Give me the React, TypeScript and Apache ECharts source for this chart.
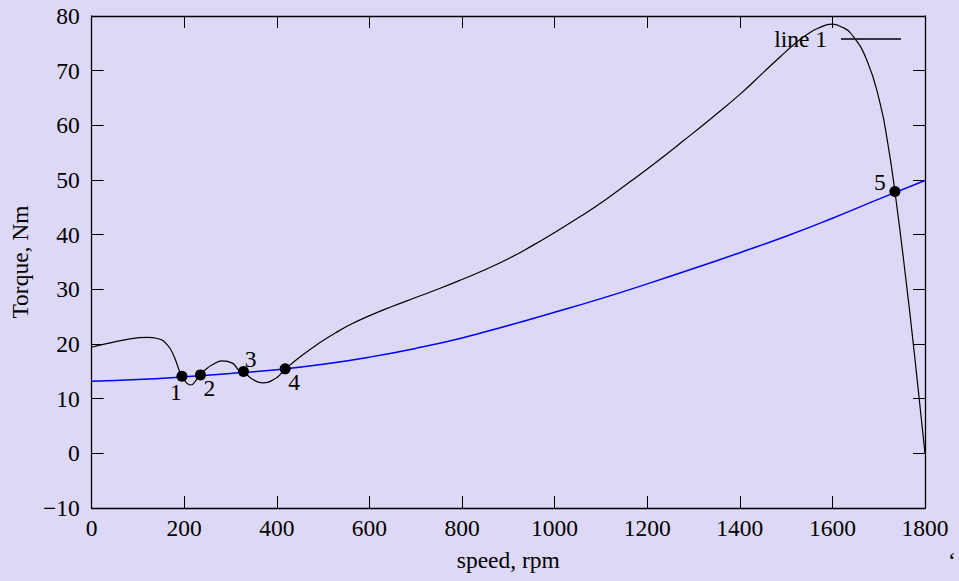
import React, { useEffect, useRef } from "react";
import * as echarts from "echarts";

// Blue load curve (speed rpm -> torque Nm)
const blueSpeed = [0, 100, 200, 300, 400, 500, 600, 700, 800, 900, 1000, 1100, 1200, 1300, 1400, 1500, 1600, 1700, 1800];
const blueTorque = [13.2, 13.5, 14.0, 14.6, 15.3, 16.3, 17.6, 19.2, 21.1, 23.4, 25.8, 28.3, 31.0, 33.8, 36.7, 39.7, 43.0, 46.5, 49.9];

// Black motor curve "line 1"
const lineSpeed = [0, 35, 80, 120, 142, 164, 178, 189, 195, 205, 214, 225, 235, 250, 261, 282, 304, 318, 329, 345, 368, 397, 418, 454, 494, 526, 560, 598, 650, 700, 750, 800, 842, 900, 950, 1000, 1057, 1110, 1165, 1220, 1280, 1340, 1402, 1450, 1488, 1520, 1545, 1570, 1599, 1620, 1640, 1674, 1703, 1720, 1735, 1755, 1778, 1800];
const lineTorque = [19.4, 20.1, 20.9, 21.2, 21.0, 19.8, 17.7, 15.2, 14.1, 12.9, 12.5, 13.3, 14.4, 15.6, 16.2, 16.9, 16.5, 15.2, 14.9, 13.7, 12.9, 13.7, 15.4, 17.9, 20.3, 22.0, 23.6, 25.1, 26.9, 28.5, 30.1, 31.8, 33.3, 35.6, 37.9, 40.4, 43.4, 46.4, 49.8, 53.3, 57.3, 61.4, 65.8, 69.6, 72.6, 75.0, 76.6, 77.8, 78.5, 78.0, 76.8, 72.0, 64.0, 56.5, 47.9, 34.5, 17.5, 0];

// Intersection points
const pointSpeed = [195, 235, 328, 418, 1735];
const pointTorque = [14.1, 14.35, 14.95, 15.45, 47.9];
const pointLabels = ["1", "2", "3", "4", "5"];

// Axis ticks
const xMin = 0, xMax = 1800, xStep = 200;
const yMin = -10, yMax = 80, yStep = 10;

const FONT = "Liberation Serif";
const FS = 23.5;

export default function App() {
  const ref = useRef<HTMLDivElement>(null);
  useEffect(() => {
    document.body.style.margin = "0";
    const chart = echarts.init(ref.current!, null, { renderer: "svg" });
    const labelOffsets: [number, number][] = [[-6, 16], [9, 13], [7, -13], [9, 13], [-15, -9]];
    const axisLine = { show: true, onZero: false, lineStyle: { color: "#000", width: 1.3 } };
    const tick = { show: true, inside: true, length: 12, lineStyle: { color: "#000", width: 1 } };
    const option: any = {
      animation: false,
      backgroundColor: "#dcd8f6",
      textStyle: { fontFamily: FONT },
      grid: { left: 89, top: 16, right: 34, bottom: 73 },
      legend: {
        data: [{ name: "line 1", icon: "rect" }],
        right: 58,
        top: 27,
        padding: 0,
        align: "right",
        itemWidth: 60,
        itemHeight: 1.3,
        itemStyle: { color: "#000" },
        textStyle: { fontFamily: FONT, fontSize: FS, color: "#000", padding: [0, 9, 0, 0] },
      },
      xAxis: [
        {
          type: "value", min: xMin, max: xMax, interval: xStep, position: "bottom",
          name: "speed, rpm", nameLocation: "middle", nameGap: 40,
          nameTextStyle: { fontFamily: FONT, fontSize: FS, color: "#000" },
          axisLine, axisTick: tick, splitLine: { show: false },
          axisLabel: { fontFamily: FONT, fontSize: FS, color: "#000", margin: 8, formatter: (v: number) => String(v) },
        },
        {
          type: "value", min: xMin, max: xMax, interval: xStep, position: "top",
          axisLine, axisTick: tick, splitLine: { show: false }, axisLabel: { show: false },
        },
      ],
      yAxis: [
        {
          type: "value", min: yMin, max: yMax, interval: yStep, position: "left",
          name: "Torque, Nm", nameLocation: "middle", nameGap: 57, nameRotate: 90,
          nameTextStyle: { fontFamily: FONT, fontSize: FS, color: "#000" },
          axisLine, axisTick: tick, splitLine: { show: false },
          axisLabel: {
            fontFamily: FONT, fontSize: FS, color: "#000", margin: 12,
            formatter: (v: number) => (v < 0 ? "\u2212" + Math.abs(v) : String(v)),
          },
        },
        {
          type: "value", min: yMin, max: yMax, interval: yStep, position: "right",
          axisLine, axisTick: tick, splitLine: { show: false }, axisLabel: { show: false },
        },
      ],
      series: [
        {
          name: "load",
          type: "line",
          data: blueSpeed.map((s, i) => [s, blueTorque[i]]),
          symbol: "none",
          smooth: 0.5,
          lineStyle: { color: "#0000ff", width: 1.5 },
          z: 2,
        },
        {
          name: "line 1",
          type: "line",
          data: lineSpeed.map((s, i) => [s, lineTorque[i]]),
          symbol: "none",
          smooth: 0.5,
          lineStyle: { color: "#000", width: 1.2 },
          itemStyle: { color: "#000" },
          z: 3,
        },
        {
          name: "points",
          type: "scatter",
          data: pointSpeed.map((s, i) => ({
            value: [s, pointTorque[i]],
            label: {
              show: true,
              formatter: pointLabels[i],
              position: "inside",
              offset: labelOffsets[i],
              color: "#000",
              textBorderWidth: 0,
            },
          })),
          symbol: "circle",
          symbolSize: 11,
          itemStyle: { color: "#000", opacity: 1 },
          label: { fontFamily: FONT, fontSize: FS, color: "#000", textBorderWidth: 0, align: "center", verticalAlign: "middle" },
          z: 4,
        },
      ],
      graphic: [
        {
          type: "text",
          left: 948,
          top: 549,
          style: { text: "\u2018", fontFamily: FONT, fontSize: FS, fill: "#000" },
        },
      ],
    };
    chart.setOption(option);
    return () => chart.dispose();
  }, []);
  return (
    <div
      ref={ref}
      style={{ position: "fixed", left: 0, top: 0, width: 959, height: 581 }}
    />
  );
}
